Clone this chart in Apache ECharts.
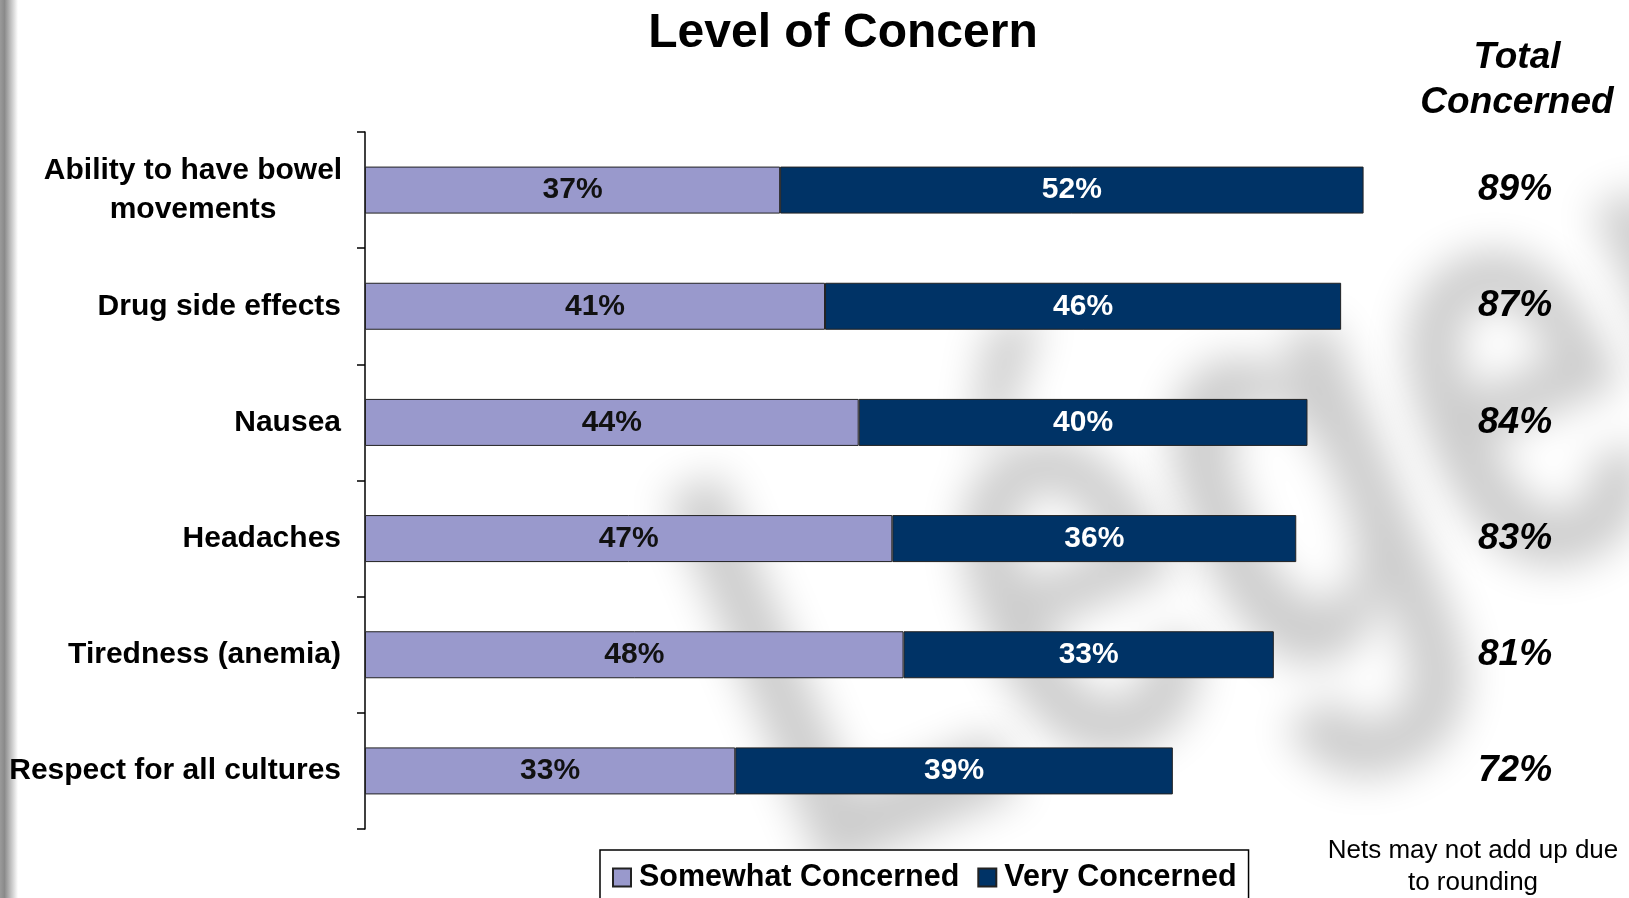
<!DOCTYPE html>
<html>
<head>
<meta charset="utf-8">
<script src="https://cdn.jsdelivr.net/npm/echarts@6/dist/echarts.min.js"></script>
<style>
html,body{margin:0;padding:0;background:#fff;}
#chart{width:1629px;height:898px;}
</style>
</head>
<body>
<div id="chart"></div>
<script>
const categories = ['Ability to have bowel\nmovements', 'Drug side effects', 'Nausea', 'Headaches', 'Tiredness (anemia)', 'Respect for all cultures'];
const somewhat = [37, 41, 44, 47, 48, 33];
const very = [52, 46, 40, 36, 33, 39];
const totals = [89, 87, 84, 83, 81, 72];
const seriesNames = ['Somewhat Concerned', 'Very Concerned'];

const FONT = '"Liberation Sans", Arial, Helvetica, sans-serif';
const chart = echarts.init(document.getElementById('chart'), null, {renderer: 'canvas'});

chart.setOption({
  backgroundColor: '#ffffff',
  animation: false,
  title: [{
    text: 'Level of Concern',
    left: 838, top: 5, textAlign: 'center',
    textStyle: {fontFamily: FONT, fontSize: 48, fontWeight: 'bold', color: '#000'}
  }],
  graphic: [
    {
      type: 'rect', z: -20, silent: true,
      shape: {x: 0, y: 0, width: 18, height: 898},
      style: {fill: new echarts.graphic.LinearGradient(0, 0, 1, 0, [
        {offset: 0, color: '#9a9a9a'}, {offset: 0.25, color: '#8a8a8a'}, {offset: 1, color: '#ffffff'}
      ])}
    },
    {
      type: 'text', z: -30, silent: true,
      x: 1255 - 5000, y: 515, rotation: 0.4, scaleX: 0.9, scaleY: 1.3,
      style: {
        text: 'Léger', font: 'bold 460px ' + FONT, fill: '#000',
        textAlign: 'center', textVerticalAlign: 'middle',
        textShadowColor: 'rgba(0,0,0,0.2)', textShadowBlur: 42, textShadowOffsetX: 5000
      }
    },
    {
      type: 'text', silent: true, x: 1517, y: 58,
      style: {text: 'Total', font: 'italic bold 37px ' + FONT, fill: '#000', textAlign: 'center', textVerticalAlign: 'middle'}
    },
    {
      type: 'text', silent: true, x: 1517, y: 103,
      style: {text: 'Concerned', font: 'italic bold 37px ' + FONT, fill: '#000', textAlign: 'center', textVerticalAlign: 'middle'}
    },
    {
      type: 'text', silent: true, x: 1473, y: 867,
      style: {text: 'Nets may not add up due\nto rounding', font: '26px ' + FONT, lineHeight: 32, fill: '#000', textAlign: 'center', textVerticalAlign: 'middle'}
    }
  ],
  legend: {
    data: seriesNames,
    left: 600, top: 850,
    orient: 'horizontal',
    itemWidth: 18, itemHeight: 18, itemGap: 18,
    padding: [12, 12, 30, 12],
    borderColor: '#000', borderWidth: 1.5,
    backgroundColor: '#fff',
    icon: 'rect',
    textStyle: {fontFamily: FONT, fontSize: 30.5, fontWeight: 'bold', color: '#000', lineHeight: 30, padding: [0, 0, 0, 3]}
  },
  grid: {left: 365, top: 132, width: 1122, height: 697, containLabel: false},
  xAxis: {
    type: 'value', min: 0, max: 100,
    show: false
  },
  yAxis: [
    {
      type: 'category', data: categories, inverse: true,
      axisLine: {show: true, lineStyle: {color: '#000', width: 1.5}},
      axisTick: {show: true, length: 8, lineStyle: {color: '#000', width: 1.5}},
      axisLabel: {
        margin: 24, color: '#000', fontFamily: FONT, fontSize: 30, fontWeight: 'bold',
        lineHeight: 39, align: 'right',
        formatter: function (v) {
          if (v.indexOf('\n') >= 0) {
            return v.split('\n').map(function (s) { return '{c|' + s + '}'; }).join('\n');
          }
          return v;
        },
        rich: {
          c: {width: 296, align: 'center', fontFamily: FONT, fontSize: 30, fontWeight: 'bold', color: '#000', lineHeight: 39}
        }
      },
      splitLine: {show: false}
    },
    {
      type: 'category', data: categories, inverse: true, position: 'right',
      axisLine: {show: false}, axisTick: {show: false},
      axisLabel: {
        margin: 28, align: 'center', color: '#000', fontFamily: FONT,
        fontSize: 37, fontWeight: 'bold', fontStyle: 'italic',
        formatter: function (v, i) { return totals[i] + '%'; }
      }
    }
  ],
  series: [
    {
      name: seriesNames[0], type: 'bar', stack: 'total', data: somewhat,
      barWidth: 47,
      itemStyle: {color: '#9999CC', borderColor: '#222', borderWidth: 1},
      label: {show: true, position: 'inside', formatter: '{c}%', color: '#111', fontFamily: FONT, fontSize: 30, fontWeight: 'bold'}
    },
    {
      name: seriesNames[1], type: 'bar', stack: 'total', data: very,
      barWidth: 47,
      itemStyle: {color: '#003366', borderColor: '#222', borderWidth: 1},
      label: {show: true, position: 'inside', formatter: '{c}%', color: '#fff', fontFamily: FONT, fontSize: 30, fontWeight: 'bold'}
    }
  ]
});
</script>
</body>
</html>
